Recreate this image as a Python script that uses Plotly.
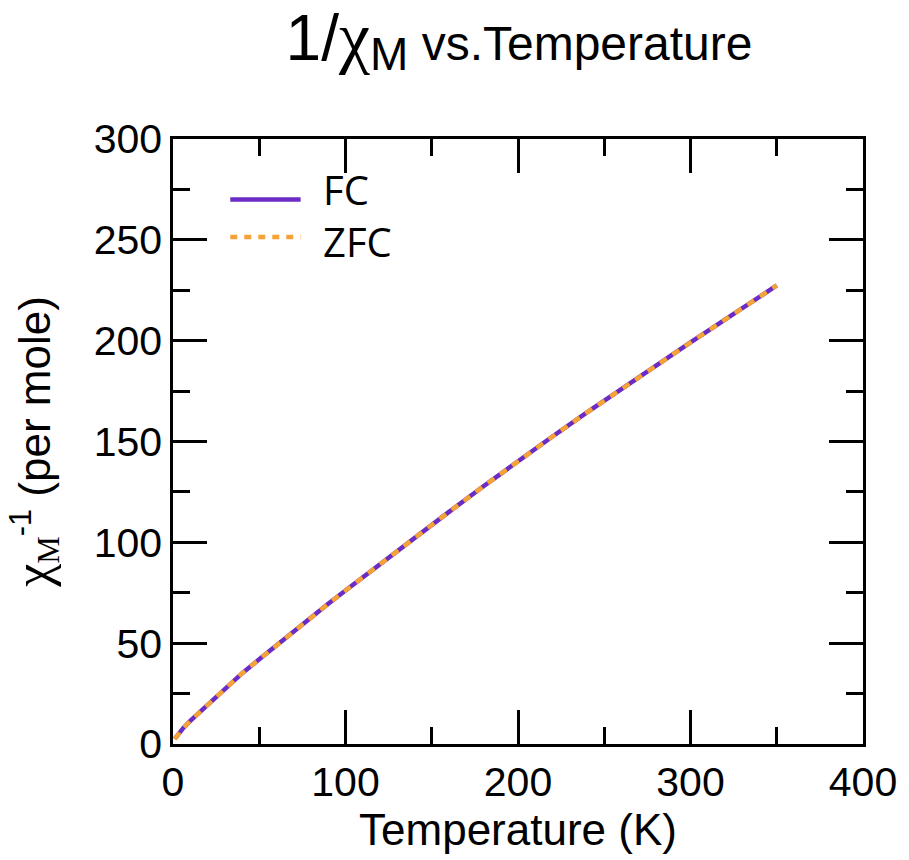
import plotly.graph_objects as go

# Data
temperature = [1, 3, 6, 10, 15, 20, 30, 40, 50, 60, 70, 80, 90, 100, 120, 140, 160, 180,
               200, 220, 240, 260, 280, 300, 320, 340, 350]
inv_chi_fc = [2.5, 5, 8, 11.5, 15.5, 19.5, 27.5, 35, 42, 49, 56, 62.8, 69.5, 76.1, 89.2, 102.2,
              115.1, 127.8, 140.3, 152.5, 164.4, 176.1, 187.7, 199.1, 210.4, 221.7, 227.4]
inv_chi_zfc = list(inv_chi_fc)

series_names = ["FC", "ZFC"]
x_ticks = [0, 100, 200, 300, 400]
y_ticks = [0, 50, 100, 150, 200, 250, 300]

PURPLE = "#6a2cc4"
ORANGE = "#f5a236"
FONT = "Liberation Sans, Arial, sans-serif"

fig = go.Figure()
fig.add_trace(go.Scatter(x=temperature, y=inv_chi_fc, mode="lines", name=series_names[0],
                         line=dict(color=PURPLE, width=4.5), showlegend=False))
fig.add_trace(go.Scatter(x=temperature, y=inv_chi_zfc, mode="lines", name=series_names[1],
                         line=dict(color=ORANGE, width=4.5, dash="8px,7px"), showlegend=False))

# Legend drawn manually (long sample lines like the reference)
legend_rows = [(series_names[0], PURPLE, "solid", 0.900, 0.917),
               (series_names[1], ORANGE, "dash", 0.838, 0.830)]
for name, col, dash, yline, ytext in legend_rows:
    fig.add_shape(type="line", xref="paper", yref="paper", x0=0.083, x1=0.185, y0=yline, y1=yline,
                  line=dict(color=col, width=4.5, dash=("solid" if dash == "solid" else "7px,7px")))
    fig.add_annotation(xref="paper", yref="paper", x=0.215, y=ytext, text=name, showarrow=False,
                       xanchor="left", yanchor="middle",
                       font=dict(family="Open Sans, Noto Sans, sans-serif", size=40, color="black"))

axis_common = dict(
    showline=True, linecolor="black", linewidth=2.5, mirror="allticks",
    ticks="inside", ticklen=34, tickwidth=2.5, tickcolor="black",
    showgrid=False, zeroline=False,
    tickfont=dict(family=FONT, size=41, color="black"),
)

fig.update_xaxes(range=[0, 400], tickvals=x_ticks, ticktext=[str(v) for v in x_ticks],
                 minor=dict(dtick=50, tick0=0, ticks="inside", ticklen=17, tickwidth=2.5,
                            tickcolor="black", showgrid=False),
                 title=dict(text="Temperature (K)", font=dict(family=FONT, size=44, color="black"),
                            standoff=4),
                 **axis_common)
fig.update_yaxes(range=[0, 300], tickvals=y_ticks, ticktext=[str(v) for v in y_ticks],
                 minor=dict(dtick=25, tick0=0, ticks="inside", ticklen=17, tickwidth=2.5,
                            tickcolor="black", showgrid=False),
                 title=dict(text="<span style='font-family:Liberation Serif;font-size:52px'>χ</span>"
                                 "<sub><span style='font-family:Liberation Serif'>M</span></sub>"
                                 "<sup>-1</sup> (per mole)",
                            font=dict(family=FONT, size=44, color="black"), standoff=30),
                 **axis_common)

fig.update_layout(
    width=909, height=860,
    margin=dict(l=173, r=44, t=139, b=116),
    plot_bgcolor="white", paper_bgcolor="white",
    title=dict(text="<span style='font-size:64px'>1/</span>"
                    "<span style='font-family:Liberation Serif;font-size:70px'>χ</span>"
                    "<sub><span style='font-size:46px'>M</span></sub> vs.Temperature",
               x=(173 + 865) / 2 / 909, xanchor="center", y=0.95, yanchor="middle",
               font=dict(family=FONT, size=48, color="black")),
)

fig.write_html("out.html")
